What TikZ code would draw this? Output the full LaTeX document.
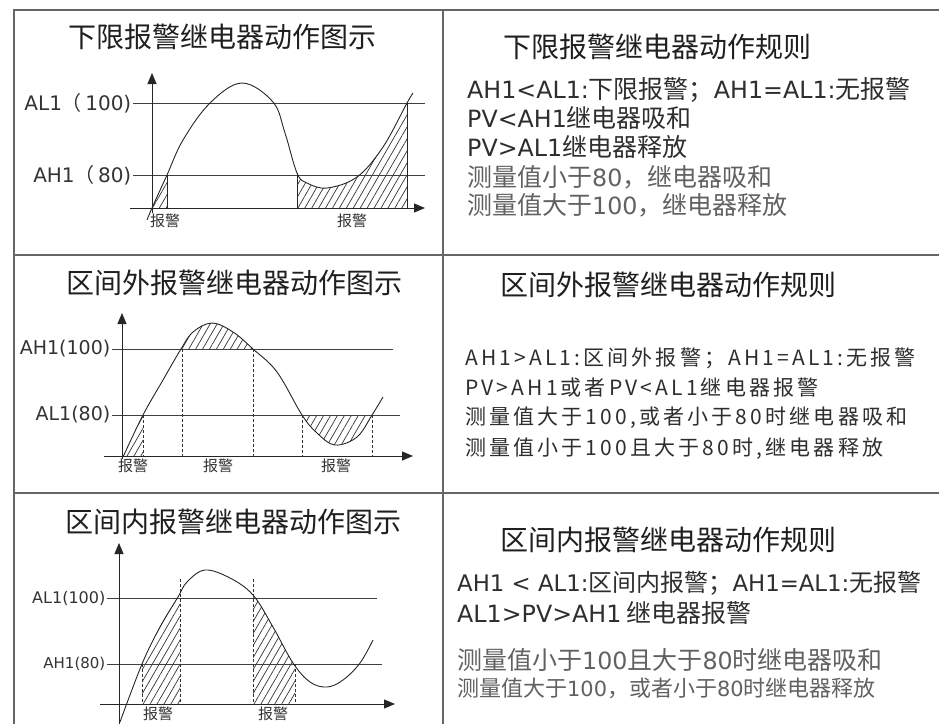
\documentclass[tikz,border=0pt]{standalone}
\usepackage{fontspec}
\usepackage{tikz}
\usetikzlibrary{arrows.meta,patterns.meta,positioning}
\newfontfamily\cjk{Noto Sans CJK SC}
\newfontfamily\cjksp{Noto Sans CJK SC}[LetterSpace=15]
\newfontfamily\lat{DejaVu Sans}[Scale=0.95]
\newfontfamily\lbl{DejaVu Sans}

% the three relay curves, in picture pixels
\newcommand\waveLow{plot[smooth,tension=0.6] coordinates {(147,220) (152,208) (167,175) (183,140) (210,103) (242,83) (273,102) (285,133) (297,173) (307,183) (327,188) (357,177) (383,147) (407,103) (413,93)}}
\newcommand\waveOut{plot[smooth,tension=0.6] coordinates {(123,457) (143,415) (163,380) (181,349) (193,332) (212,323) (233,332) (253,349) (277,372) (302,415) (317,433) (335,445) (357,437) (372,415) (383,397)}}
\newcommand\waveIn{plot[smooth,tension=0.6] coordinates {(120,722) (142,664) (160,627) (178,597) (187,582) (205,570) (230,578) (253,595) (273,627) (293,663) (310,682) (327,687) (343,680) (360,663) (373,640)}}

\begin{document}
\begin{tikzpicture}[x=1pt,y=-1pt,
    frame/.style={draw=black!60, line width=1.4pt},
    axis/.style={draw=black!85, line width=1pt, -{Triangle[length=11pt,width=9pt]}},
    limit/.style={draw=black!75, line width=1pt},
    wave/.style={draw=black!85, line width=0.9pt},
    bound/.style={draw=black!85, line width=0.9pt},
    guide/.style={draw=black!80, line width=0.9pt, dash pattern=on 3pt off 2pt},
    hatch/.style={pattern={Lines[angle=60,distance=6pt,line width=0.7pt]}, pattern color=black!80},
    title/.style={font=\cjk\fontsize{28}{28}\selectfont, text=black!88, inner sep=0pt},
    rule/.style={font=\cjk\fontsize{25}{25}\selectfont, text=black!82, anchor=west, inner sep=0pt},
    rulesp/.style={font=\cjksp\fontsize{21}{21}\selectfont, text=black!82, anchor=west, inner sep=0pt},
    lvl/.style={font=\lbl\fontsize{19}{19}\selectfont, text=black!80, anchor=east, inner sep=1.5pt},
    tag/.style={font=\cjk\fontsize{15}{15}\selectfont, text=black!80, inner sep=0pt}]
  \useasboundingbox (0,0) rectangle (939,724);

  % table
  \coordinate (nw) at (14,10);
  \coordinate (mid) at (443,10);
  \draw[frame] (939,10) -- (nw) -- (14,724);
  \draw[frame] (mid) -- (443,724);
  \draw[frame] (14,255) -- (939,255);
  \draw[frame] (14,493) -- (939,493);

  % --- lower limit ---
  \node[title] (t1) at (222,37) {下限报警继电器动作图示};
  \node[title] (s1) at (657,47) {下限报警继电器动作规则};
  \node[rule] (r11) at (467,90) {{\lat AH1<AL1:}下限报警；{\lat AH1=AL1:}无报警};
  \node[rule] (r12) at (467,118) {{\lat PV<AH1}继电器吸和};
  \node[rule] (r13) at (467,147) {{\lat PV>AL1}继电器释放};
  \node[rule,text=black!62] (r14) at (467,177) {测量值小于{\lat 80}，继电器吸和};
  \node[rule,text=black!62] (r15) at (467,205) {测量值大于{\lat 100}，继电器释放};

  \begin{scope}
    \clip (152,60) rectangle (167,208);
    \fill[hatch] \waveLow -- (413,208) -- (147,208) -- cycle;
  \end{scope}
  \begin{scope}
    \clip (297,60) rectangle (407,208);
    \fill[hatch] \waveLow -- (413,208) -- (147,208) -- cycle;
  \end{scope}
  \node[lvl,font=\lbl\fontsize{20}{20}\selectfont] (al1) at (133,103) {AL1{\cjk （}\,100)};
  \node[lvl,font=\lbl\fontsize{20}{20}\selectfont] (ah1) at (133,175) {AH1{\cjk （}\,80)};
  \draw[limit] (al1.east) -- (425,103);
  \draw[limit] (ah1.east) -- (425,175);
  \draw[axis] (130,208) -- (425,208);
  \draw[axis] (152,213) -- (152,73);
  \draw[wave] \waveLow;
  \draw[bound] (167,175) -- (167,208);
  \draw[bound] (297,173) -- (297,208);
  \draw[bound] (407,103) -- (407,208);
  \node[tag] (g11) at (165,221) {报警};
  \node[tag] (g12) at (352,221) {报警};

  % --- outside band ---
  \node[title] (t2) at (234,283) {区间外报警继电器动作图示};
  \node[title] (s2) at (668,285) {区间外报警继电器动作规则};
  \node[rulesp] (r21) at (465,358) {AH1>AL1:区间外报警；AH1=AL1:无报警};
  \node[rulesp] (r22) at (465,388) {PV>AH1或者PV<AL1继电器报警};
  \node[rulesp] (r23) at (465,418) {测量值大于100,或者小于80时继电器吸和};
  \node[rulesp] (r24) at (465,449) {测量值小于100且大于80时,继电器释放};

  \begin{scope}
    \clip (123,300) rectangle (143,456);
    \fill[hatch] \waveOut -- (383,456) -- (123,456) -- cycle;
  \end{scope}
  \begin{scope}
    \clip (182,300) rectangle (253,349);
    \fill[hatch] \waveOut -- (383,456) -- (123,456) -- cycle;
  \end{scope}
  \begin{scope}
    \clip (302,415) rectangle (372,456);
    \fill[hatch] \waveOut -- (383,300) -- (123,300) -- cycle;
  \end{scope}
  \node[lvl] (ah2) at (112,349) {AH1(100)};
  \node[lvl] (al2) at (112,415) {AL1(80)};
  \draw[limit] (ah2.east) -- (393,349);
  \draw[limit] (al2.east) -- (400,415);
  \draw[axis] (104,456) -- (413,456);
  \draw[axis] (122,459) -- (122,313);
  \draw[wave] \waveOut;
  \foreach \x/\y in {143/415, 182/349, 253/349, 302/415, 372/415}
    \draw[guide] (\x,\y) -- (\x,456);
  \node[tag] (g21) at (133,466) {报警};
  \node[tag] (g22) at (218,466) {报警};
  \node[tag] (g23) at (336,466) {报警};

  % --- inside band ---
  \node[title] (t3) at (233,522) {区间内报警继电器动作图示};
  \node[title] (s3) at (668,540) {区间内报警继电器动作规则};
  \node[rule,font=\cjk\fontsize{24}{24}\selectfont] (r31) at (457,583) {{\lat AH1 < AL1:}区间内报警；{\lat AH1=AL1:}无报警};
  \node[rule] (r32) at (457,613) {{\lat AL1>PV>AH1} 继电器报警};
  \node[rule,text=black!62] (r33) at (457,660) {测量值小于{\lat 100}且大于{\lat 80}时继电器吸和};
  \node[rule,text=black!62,font=\cjk\fontsize{22}{22}\selectfont] (r34) at (457,688) {测量值大于{\lat 100}，或者小于{\lat 80}时继电器释放};

  \begin{scope}
    \clip (142,550) rectangle (180,704);
    \fill[hatch] \waveIn -- (373,704) -- (120,704) -- cycle;
  \end{scope}
  \begin{scope}
    \clip (253,550) rectangle (295,704);
    \fill[hatch] \waveIn -- (373,704) -- (120,704) -- cycle;
  \end{scope}
  \node[lvl,font=\lbl\fontsize{16}{16}\selectfont] (al3) at (107,598) {AL1(100)};
  \node[lvl,font=\lbl\fontsize{15}{15}\selectfont] (ah3) at (107,664) {AH1(80)};
  \draw[limit] (al3.east) -- (377,598);
  \draw[limit] (ah3.east) -- (382,664);
  \draw[axis] (100,704) -- (395,704);
  \draw[axis] (119,724) -- (119,543);
  \draw[wave] \waveIn;
  \foreach \x/\y in {142/664, 180/579, 253/579, 295/664}
    \draw[guide] (\x,\y) -- (\x,704);
  \node[tag] (g31) at (158,714) {报警};
  \node[tag] (g32) at (273,714) {报警};
\end{tikzpicture}
\end{document}
